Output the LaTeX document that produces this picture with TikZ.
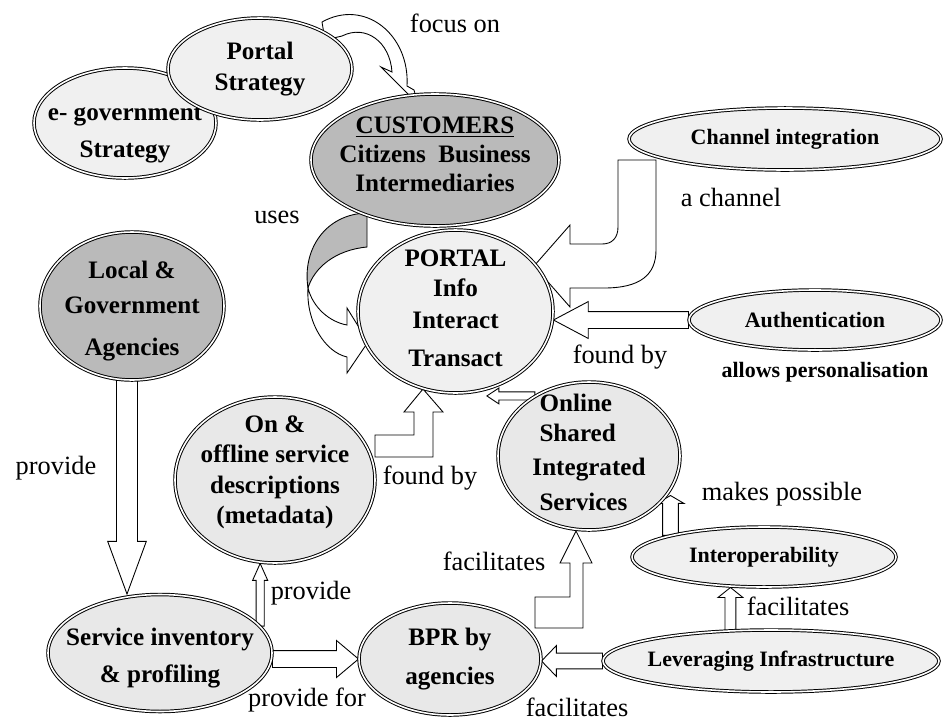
\documentclass[tikz,border=0pt]{standalone}
\usepackage{fontspec}
\setmainfont{Liberation Serif}
\usetikzlibrary{shapes.geometric,calc,backgrounds}
\definecolor{paleFill}{gray}{0.94}
\definecolor{lightFill}{gray}{0.91}
\definecolor{darkFill}{gray}{0.73}
\newcommand\txtup[1]{\rule[-#1]{0pt}{0pt}}
\newcommand\txtdown[1]{\rule{0pt}{#1}}
% tail, tip, half shaft, half head, head length
\newcommand\blockarrow[5]{%
  \coordinate (ba-base) at ($(#2)!#5!(#1)$);
  \draw[blockarr] ($(#1)!#3!90:(#2)$) -- ($(ba-base)!#3!-90:(#1)$) -- ($(ba-base)!#4!-90:(#1)$) -- (#2)
    -- ($(ba-base)!#4!90:(#1)$) -- ($(ba-base)!#3!90:(#1)$) -- ($(#1)!#3!-90:(#2)$) -- cycle;}
\begin{document}
\begin{tikzpicture}[x=0.02cm, y=-0.02cm,
    bubble/.style={ellipse, draw, double=white, double distance=0.9pt, line width=0.55pt,
      align=center, inner sep=-12pt, font=\fontsize{14.3}{17}\selectfont\bfseries},
    flat/.style={bubble, font=\fontsize{12.5}{15}\selectfont\bfseries},
    esize/.style 2 args={minimum width=#1*0.02cm, minimum height=#2*0.02cm},
    note/.style={inner sep=0pt, font=\fontsize{15}{18}\selectfont},
    notebold/.style={inner sep=0pt, font=\fontsize{12.5}{15}\selectfont\bfseries},
    blockarr/.style={draw, fill=white, line width=0.5pt, line join=miter}]
  \useasboundingbox (0,0) rectangle (943,724);

  \node[bubble, fill=paleFill, esize={182}{110}] (egov) at (125,123)
    {\txtdown{21pt}e- government\\[4pt]Strategy};
  \node[bubble, fill=paleFill, esize={184}{102}] (pstrat) at (260,69)
    {Portal\\[1.1pt]Strategy};
  \node[bubble, fill=darkFill, esize={248}{132}] (cust) at (435,160)
    {\underline{CUSTOMERS}\\[-0.6pt]Citizens\ \ Business\\[-0.6pt]Intermediaries\txtup{6.8pt}};
  \node[flat, fill=paleFill, esize={312}{62}] (chan) at (785,139) {Channel integration};
  \node[bubble, fill=paleFill, esize={195}{163}] (portal) at (455.5,311.5)
    {PORTAL\\Info\\[1.1pt]Interact\\[4.5pt]Transact\txtup{4pt}};
  \node[flat, fill=paleFill, esize={252}{60}] (auth) at (815,320) {Authentication};
  \node[bubble, fill=darkFill, esize={184}{148}] (local) at (132,306)
    {\txtdown{15.5pt}Local \&\\[3.4pt]Government\\[6.8pt]Agencies};
  \node[bubble, fill=lightFill, esize={200}{166}] (onoff) at (275,480)
    {On \&\\offline service\\[0.6pt]descriptions\\(metadata)\txtup{11.6pt}};
  \node[bubble, fill=lightFill, esize={182}{148}, align=left] (online) at (589,456)
    {\hspace*{4pt}Online\\\hspace*{4pt}Shared\\[2.3pt]Integrated\\[2.8pt]\hspace*{4pt}Services\txtup{4pt}};
  \node[bubble, fill=lightFill, esize={224}{117}] (service) at (160,653)
    {\txtdown{16pt}Service inventory\\[4pt]\& profiling};
  \node[bubble, fill=lightFill, esize={182}{112}] (bpr) at (450,659)
    {BPR by\\[5.7pt]agencies};
  \node[flat, fill=paleFill, esize={264}{60}] (interop) at (764,557) {Interoperability};
  \node[flat, fill=paleFill, esize={336}{62}] (lever) at (771,661) {Leveraging Infrastructure};

  \node[note] (focuslbl) at (455,23) {focus on};
  \node[note] (useslbl) at (277,217) {uses};
  \node[note] (chanlbl) at (731,197) {a channel};
  \node[note] (foundlblA) at (620,357) {found by};
  \node[notebold] (perslbl) at (825,372) {allows personalisation};
  \node[note] (providelblA) at (56,468) {provide};
  \node[note] (foundlblB) at (430,478) {found by};
  \node[note] (possiblelbl) at (782,494) {makes possible};
  \node[note] (facillblA) at (494,561) {facilitates};
  \node[note] (providelblB) at (311,593) {provide};
  \node[note] (facillblB) at (798,606) {facilitates};
  \node[note] (provforlbl) at (307,700) {provide for};
  \node[note] (facillblC) at (577,707) {facilitates};

  \coordinate (authtip) at (portal.east |- auth.west);
  \coordinate (onlinetail) at (online.132);
  \coordinate (onlinetip) at (onlinetail -| portal.-68);
  \coordinate (servtail) at (service.east |- bpr.west);
  \coordinate (levtip) at (bpr.east |- lever.west);
  \coordinate (localtail) at ($(local.south)+(-5,0)$);
  \coordinate (localtip) at (localtail |- service.north);
  \coordinate (metatail) at (service.15);
  \coordinate (metatip) at (metatail |- onoff.south);
  \coordinate (interoptail) at (interop.167);
  \coordinate (interoptip) at (interoptail |- online.-27);
  \coordinate (levuptail) at (lever.143);
  \coordinate (levuptip) at (levuptail |- interop.south);

  \begin{scope}[on background layer]
    \draw[blockarr] (322,22) .. controls (365,-2) and (410,35) .. (407,86) -- (414,90) -- (418,104)
      -- (381,67) -- (392,72) .. controls (390,42) and (366,24) .. (342,36) -- (325,40) -- cycle;
    \draw[blockarr, fill=darkFill] (367,213) .. controls (325,214) and (302,250) .. (308,288)
      .. controls (314,268) and (335,250) .. (367,247) -- cycle;
    \draw[blockarr] (308,288) .. controls (306,322) and (325,352) .. (347,357) -- (347,373) -- (368,342)
      -- (347,308) -- (347,325) .. controls (330,322) and (313,308) .. (308,288) -- cycle;
    \draw[blockarr] (618,160) -- (618,227) .. controls (618,238) and (612,244) .. (602,244) -- (570,244)
      -- (570,225) -- (534,266) -- (570,307) -- (570,288) -- (604,288)
      .. controls (640,288) and (656,275) .. (656,250) -- (656,160) -- cycle;
    \draw[blockarr] (375,435) -- (414,435) -- (414,412) -- (404,412) -- (423,389) -- (443,412)
      -- (433,412) -- (433,457) -- (375,457) -- cycle;
    \draw[blockarr] (535,597) -- (570,597) -- (570,563) -- (560,563) -- (576,531) -- (592,563)
      -- (583,563) -- (583,628) -- (535,628) -- cycle;
    \blockarrow{auth.west}{authtip}{4.8pt}{10.5pt}{19.8pt}
    \blockarrow{onlinetail}{onlinetip}{2.3pt}{4.5pt}{6.8pt}
    \blockarrow{servtail}{bpr.west}{4.8pt}{10.5pt}{12.5pt}
    \blockarrow{lever.west}{levtip}{4.5pt}{8.8pt}{8.5pt}
    \blockarrow{localtail}{localtip}{6pt}{11pt}{30pt}
    \blockarrow{metatail}{metatip}{2.3pt}{4.3pt}{9.6pt}
    \blockarrow{interoptail}{interoptip}{4.5pt}{7.7pt}{4.5pt}
    \blockarrow{levuptail}{levuptip}{3.1pt}{7.1pt}{5.7pt}
  \end{scope}
\end{tikzpicture}
\end{document}
